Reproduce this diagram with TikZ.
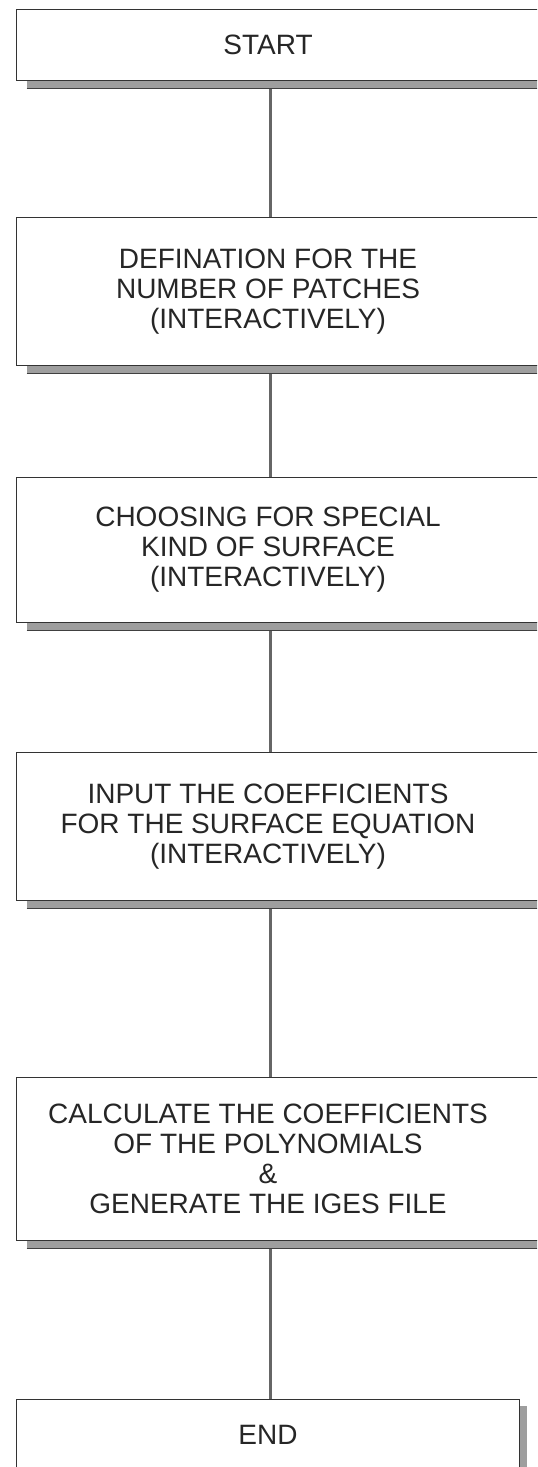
\documentclass[tikz,border=0pt]{standalone}
\usepackage{fontspec}
\setmainfont{Liberation Sans}
\usetikzlibrary{calc,positioning}

\begin{document}
\begin{tikzpicture}[x=0.5pt, y=-0.5pt,
    every node/.style={font=\fontsize{14}{15}\selectfont, text=black!85},
    stepbox/.style={minimum width=251pt, align=center, inner sep=0pt},
    frame/.style={draw=black!80, line width=0.6pt},
    shade/.style={fill=black!38},
    link/.style={draw=black!60, line width=1.5pt}]
    \useasboundingbox (0,0) rectangle (537,1467);
    \clip (0,0) rectangle (537,1467);

    % Steps of the program
    \node[stepbox, minimum height=35pt] (start) at (268,45) {START};
    \node[stepbox, minimum height=73.5pt] (patches) at (268,291.5)
        {DEFINATION FOR THE\\ NUMBER OF PATCHES\\ (INTERACTIVELY)};
    \node[stepbox, minimum height=72pt] (surface) at (268,550)
        {CHOOSING FOR SPECIAL\\ KIND OF SURFACE\\ (INTERACTIVELY)};
    \node[stepbox, minimum height=73.5pt] (coeffs) at (268,826.5)
        {INPUT THE COEFFICIENTS\\ FOR THE SURFACE EQUATION\\ (INTERACTIVELY)};
    \node[stepbox, minimum height=81pt] (iges) at (268,1159)
        {CALCULATE THE COEFFICIENTS\\ OF THE POLYNOMIALS\\ \&\\ GENERATE THE IGES FILE};
    \node[stepbox, minimum height=35pt] (stop) at (268,1435) {END};

    % Connectors
    \foreach \a/\b in {start/patches, patches/surface, surface/coeffs, coeffs/iges, iges/stop}
        \draw[link] ($(\a.south)+(2,0)$) -- ($(\b.north)+(2,0)$);

    % Frames with their shadows (running off the right edge)
    \foreach \n in {start, patches, surface, coeffs, iges} {
        \fill[shade] ($(\n.south west)+(10,0)$) rectangle ($(\n.south east)+(40,8)$);
        \draw[black!75, line width=0.8pt] ($(\n.south west)+(10,8)$) -- ($(\n.south east)+(40,8)$);
        \draw[frame] (\n.north west) rectangle ($(\n.south east)+(40,0)$);
    }
    \fill[shade] ($(stop.north east)+(0,6)$) rectangle ($(stop.south east)+(8,0)$);
    \draw[frame] (stop.north west) rectangle (stop.south east);
\end{tikzpicture}
\end{document}
